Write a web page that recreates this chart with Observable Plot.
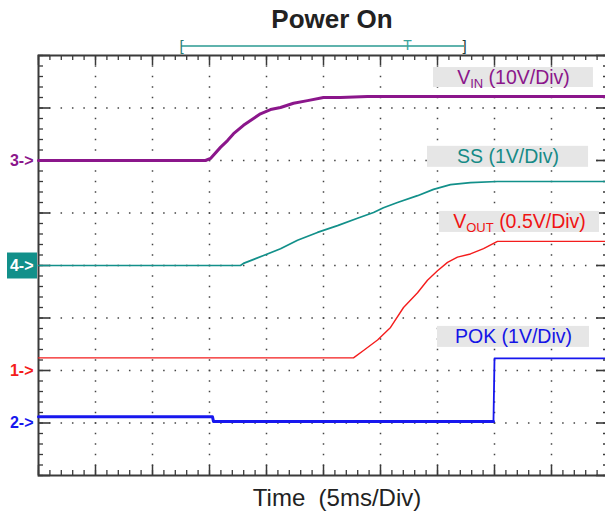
<!DOCTYPE html>
<html>
<head>
<meta charset="utf-8">
<script src="https://cdn.jsdelivr.net/npm/d3@7"></script>
<script src="https://cdn.jsdelivr.net/npm/@observablehq/plot@0.6"></script>
<style>
html, body { margin: 0; padding: 0; background: #fff; overflow: hidden; }
#wrap { position: relative; width: 605px; height: 516px; overflow: hidden; font-family: "Liberation Sans", Arial, sans-serif; }
#chart { position: absolute; left: 0; top: 0; }
#title { position: absolute; left: 182px; width: 300px; top: 4px; text-align: center; font-size: 26px; font-weight: bold; line-height: 30px; color: #222; }
#xlabel { position: absolute; left: 187px; width: 300px; top: 484px; text-align: center; font-size: 24px; line-height: 28px; color: #222; white-space: pre; }
</style>
</head>
<body>
<div id="wrap">
  <div id="chart"></div>
  <div id="title">Power On</div>
  <div id="xlabel">Time  (5ms/Div)</div>
</div>
<script>
// ---- Data (time in ms, values in volts) ----
const vinTime  = [0, 14.65, 15.09, 15.96, 16.58, 17.11, 17.98, 18.86, 19.47, 20.35, 21.23, 22.37, 23.60, 25.00, 26.49, 28.86, 50];
const vinVolts = [0, 0, 0.4, 2.5, 3.8, 5.1, 6.7, 8.0, 8.9, 9.7, 10.1, 10.9, 11.4, 12.0, 12.0, 12.2, 12.2];

const ssTime  = [0, 17.72, 17.98, 19.74, 21.23, 22.72, 24.47, 26.23, 27.98, 29.39, 30.26, 31.49, 33.25, 34.65, 36.14, 37.89, 40.26, 50];
const ssVolts = [0, 0, 0.04, 0.19, 0.32, 0.48, 0.63, 0.76, 0.90, 1.01, 1.10, 1.20, 1.33, 1.45, 1.54, 1.58, 1.60, 1.60];

const voutTime  = [0, 27.63, 28.51, 29.74, 30.88, 32.02, 33.25, 34.12, 35.00, 35.88, 36.75, 37.89, 39.04, 40.09, 40.26, 50];
const voutVolts = [0.12, 0.12, 0.19, 0.29, 0.41, 0.60, 0.74, 0.86, 0.95, 1.03, 1.08, 1.11, 1.16, 1.22, 1.23, 1.23];

const pokTime  = [0, 15.26, 15.35, 39.91, 40.00, 50];
const pokVolts = [0.12, 0.12, 0.03, 0.03, 1.23, 1.23];

// channel settings: reference level (divisions from bottom) and volts per division
const chanNames   = ["VIN", "SS", "VOUT", "POK"];
const chanMarkers = ["3->", "4->", "1->", "2->"];
const chanOffset  = [6, 4, 2, 1];
const chanVPerDiv = [10, 1, 0.5, 1];
const labelTexts  = ["V{IN} (10V/Div)", "SS (1V/Div)", "V{OUT} (0.5V/Div)", "POK (1V/Div)"];

// axis ticks (time in ms, vertical in divisions)
const minorX = d3.range(0, 50.001, 1);
const majorX = d3.range(0, 50.001, 5);
const minorY = d3.range(0, 8.001, 0.2).map(v => +v.toFixed(1));
const majorY = d3.range(0, 8.001, 1);

// trigger / memory window bar (ms)
const triggerWindow = [12.54, 37.37];
const triggerPoint = 32.37;

// ---- styles / layout ----
const colors = ["#8b168b", "#12908a", "#f41c1c", "#1717ee"];
const labelColors = ["#8b168b", "#168a86", "#f01414", "#1414e6"];
const boxX1 = [34.65, 34.12, 35.18, 35.00];
const boxX2 = [48.68, 48.25, 49.21, 48.33];
const boxY1 = [7.39, 5.87, 4.63, 2.44];
const boxY2 = [7.77, 6.27, 5.03, 2.84];

const toDiv = (k) => (v) => chanOffset[k] + v / chanVPerDiv[k];

const W = 608, H = 516, mL = 38, mT = 55, mB = 41, mR = 0;
const fw = W - mL - mR, fh = H - mT - mB;

const gridPts = [];
for (const x of majorX) if (x > 0 && x < 50) for (const y of minorY) if (y > 0 && y < 8) gridPts.push([x, y]);
for (const y of majorY) if (y > 0 && y < 8) for (const x of minorX) if (x > 0 && x < 50) gridPts.push([x, y]);

const pokA = [0, 1, 2, 3], pokB = [3, 4, 5];
const frameColor = "#3a3a3a";

const plot = Plot.plot({
  width: W, height: H,
  marginLeft: mL, marginTop: mT, marginBottom: mB, marginRight: mR,
  x: {domain: [0, 50], axis: null},
  y: {domain: [0, 8], axis: null},
  style: {fontFamily: "Liberation Sans, Arial, sans-serif", overflow: "hidden", maxWidth: "none", background: "transparent"},
  marks: [
    // grid dots
    Plot.dot(gridPts, {x: d => d[0], y: d => d[1], r: 0.85, symbol: "square", fill: "#444", stroke: null}),
    // tick marks on all four sides
    Plot.tickX(minorX, {x: d => d, insetTop: fh - 5, stroke: frameColor, strokeWidth: 1.3}),
    Plot.tickX(majorX, {x: d => d, insetTop: fh - 10, stroke: frameColor, strokeWidth: 1.5}),
    Plot.tickX(minorX, {x: d => d, insetBottom: fh - 5, stroke: frameColor, strokeWidth: 1.3}),
    Plot.tickX(majorX, {x: d => d, insetBottom: fh - 10, stroke: frameColor, strokeWidth: 1.5}),
    Plot.tickY(minorY, {y: d => d, insetRight: fw - 5, stroke: frameColor, strokeWidth: 1.3}),
    Plot.tickY(majorY, {y: d => d, insetRight: fw - 12, stroke: frameColor, strokeWidth: 1.6}),
    Plot.tickY(minorY, {y: d => d, insetLeft: fw - 5, stroke: frameColor, strokeWidth: 1.3}),
    Plot.tickY(majorY, {y: d => d, insetLeft: fw - 12, stroke: frameColor, strokeWidth: 1.6}),
    Plot.frame({stroke: frameColor, strokeWidth: 2}),
    // label boxes
    Plot.rect(labelTexts, {x1: boxX1, x2: boxX2, y1: boxY1, y2: boxY2, fill: "#e6e6e6"}),
    Plot.text(labelTexts, {
      x: boxX1.map((v, i) => (v + boxX2[i]) / 2),
      y: boxY1.map((v, i) => (v + boxY2[i]) / 2),
      text: d => d, fill: labelColors, fontSize: 19.5, textAnchor: "middle"
    }),
    // traces
    Plot.line(vinVolts, {x: vinTime, y: vinVolts.map(toDiv(0)), stroke: colors[0], strokeWidth: 3}),
    Plot.line(ssVolts, {x: ssTime, y: ssVolts.map(toDiv(1)), stroke: colors[1], strokeWidth: 1.7}),
    Plot.line(voutVolts, {x: voutTime, y: voutVolts.map(toDiv(2)), stroke: colors[2], strokeWidth: 1.4}),
    Plot.line(pokA, {x: pokA.map(i => pokTime[i]), y: pokA.map(i => toDiv(3)(pokVolts[i])), stroke: colors[3], strokeWidth: 3}),
    Plot.line(pokB, {x: pokB.map(i => pokTime[i]), y: pokB.map(i => toDiv(3)(pokVolts[i])), stroke: colors[3], strokeWidth: 1.8}),
    // channel reference markers
    Plot.ruleY([chanOffset[1]], {x1: 0, x2: 0, insetLeft: -31, insetRight: 1, stroke: colors[1], strokeWidth: 26}),
    Plot.text(chanMarkers, {
      x: 0, y: chanOffset, text: d => d, textAnchor: "end", dx: -5,
      fill: chanMarkers.map((d, i) => i === 1 ? "#ffffff" : colors[i]),
      fontSize: 16, fontWeight: "bold"
    }),
    // trigger / window bar above the frame
    Plot.ruleY([8.18], {x1: triggerWindow[0], x2: triggerWindow[1], stroke: "#5fb3ad", strokeWidth: 2}),
    Plot.text(["[", "]"], {x: triggerWindow, y: 8.18, text: d => d, textAnchor: "middle", fill: ["#2d7c77", "#1d3d3b"], fontSize: 15}),
    Plot.text(["T"], {x: [triggerPoint], y: 8.18, text: d => d, fill: "#3aa39c", fontSize: 14, dy: -1})
  ]
});

document.getElementById("chart").appendChild(plot);

// subscripts: "V{IN} ..." -> V + subscript IN
d3.select(plot).selectAll("text").each(function () {
  const s = this.textContent;
  const m = s.match(/^(.*?)\{(.*?)\}(.*)$/);
  if (!m) return;
  const t = d3.select(this);
  t.text(null);
  t.append("tspan").text(m[1]);
  t.append("tspan").attr("font-size", "13px").attr("dy", "4").text(m[2]);
  t.append("tspan").attr("dy", "-4").text(m[3]);
});
</script>
</body>
</html>
